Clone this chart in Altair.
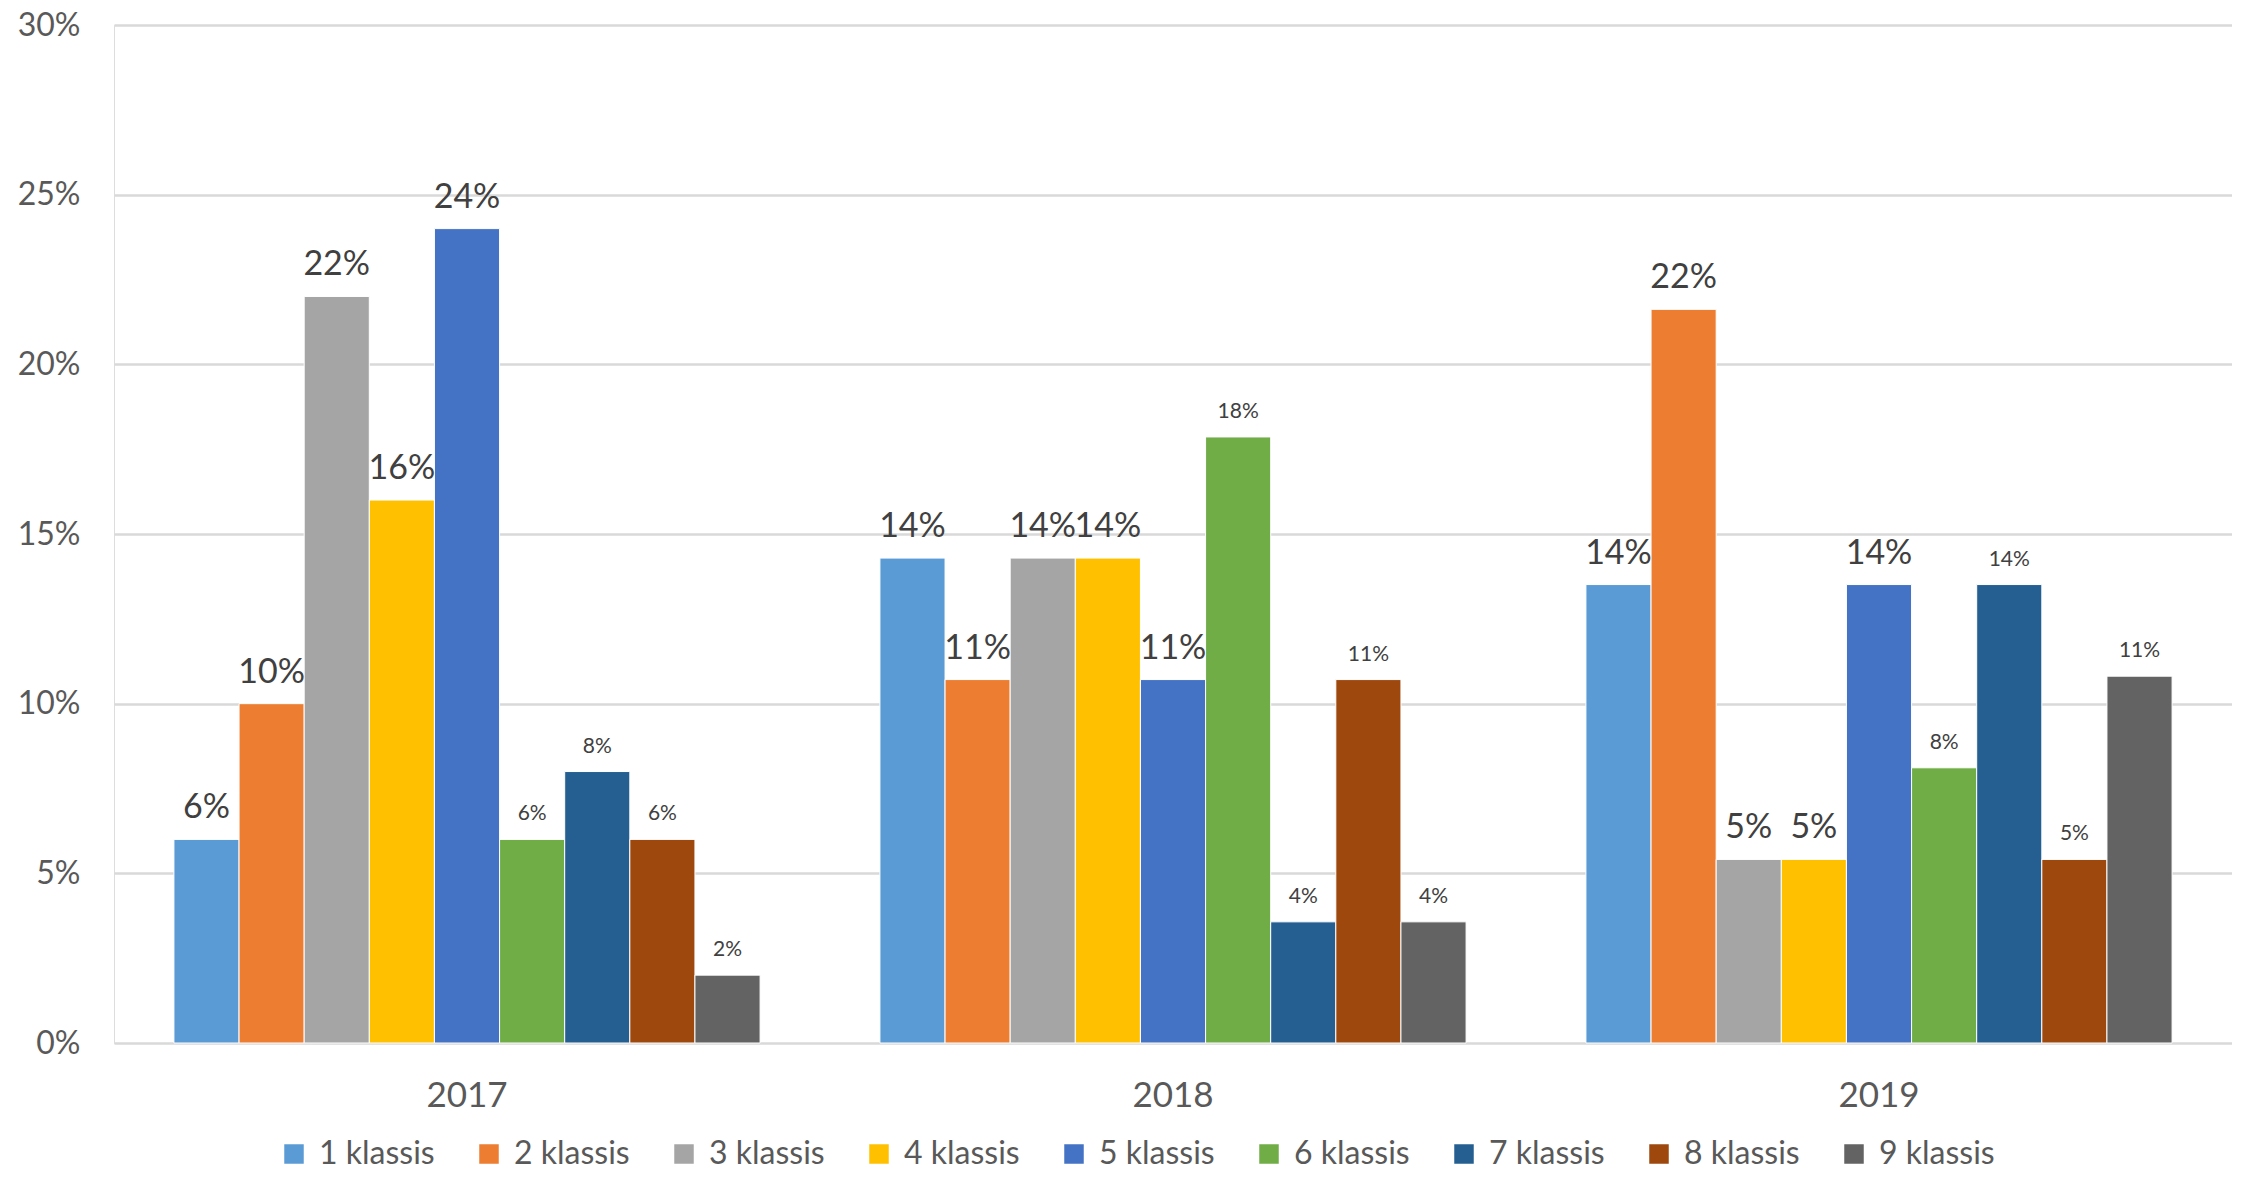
import altair as alt
import pandas as pd

years = ["2017", "2018", "2019"]
classes = ["1 klassis", "2 klassis", "3 klassis", "4 klassis", "5 klassis",
           "6 klassis", "7 klassis", "8 klassis", "9 klassis"]
v2017 = [0.06, 0.10, 0.22, 0.16, 0.24, 0.06, 0.08, 0.06, 0.02]
v2018 = [0.1429, 0.1071, 0.1429, 0.1429, 0.1071, 0.1786, 0.0357, 0.1071, 0.0357]
v2019 = [0.1351, 0.2162, 0.0541, 0.0541, 0.1351, 0.0811, 0.1351, 0.0541, 0.1081]
colors = ["#5B9BD5", "#ED7D31", "#A5A5A5", "#FFC000", "#4472C4",
          "#70AD47", "#255E91", "#9E480E", "#636363"]

rows = []
for y, vals in zip(years, [v2017, v2018, v2019]):
    for i, (c, v) in enumerate(zip(classes, vals)):
        rows.append({"year": y, "klass": c, "grade": i + 1, "value": v})
df = pd.DataFrame(rows)

FONT = "Lato"

x = alt.X("year:N", sort=years, title=None,
          scale=alt.Scale(paddingInner=0, paddingOuter=0),
          axis=alt.Axis(labelAngle=0, labelFontSize=35, labelColor="#595959",
                        labelFont=FONT, ticks=False, domain=False, labelPadding=35))
xo = alt.XOffset("klass:N", sort=classes,
                 scale=alt.Scale(paddingInner=0, paddingOuter=0.92))

base = alt.Chart(df)

bars = base.mark_bar(stroke="white", strokeWidth=1).encode(
    x=x, xOffset=xo,
    y=alt.Y("value:Q", title=None,
            scale=alt.Scale(domain=[0, 0.30], nice=False),
            axis=alt.Axis(format=".0%", values=[0, 0.05, 0.10, 0.15, 0.20, 0.25, 0.30],
                          labelFontSize=32, labelColor="#595959", labelFont=FONT,
                          ticks=False, domain=False, labelPadding=34,
                          gridColor="#D9D9D9", gridWidth=2.5)),
    color=alt.Color("klass:N", sort=classes,
                    scale=alt.Scale(domain=classes, range=colors),
                    legend=alt.Legend(title=None, orient="none", direction="horizontal",
                                      columns=9, legendX=164, legendY=1113,
                                      symbolType="square", symbolSize=380,
                                      symbolStrokeWidth=0, labelFontSize=32,
                                      labelFont=FONT, labelColor="#595959",
                                      labelOffset=9, columnPadding=38,
                                      labelLimit=300)),
)

big = base.transform_filter("datum.grade <= 5").mark_text(
    baseline="bottom", dy=-14, fontSize=34, font=FONT, color="#404040"
).encode(x=x, xOffset=xo, y="value:Q", text=alt.Text("value:Q", format=".0%"))

small = base.transform_filter("datum.grade > 5").mark_text(
    baseline="bottom", dy=-15, fontSize=21, font=FONT, color="#404040"
).encode(x=x, xOffset=xo, y="value:Q", text=alt.Text("value:Q", format=".0%"))

chart = alt.layer(bars, big, small).properties(
    width=2118, height=1018,
    autosize=alt.AutoSizeParams(type="none"),
    padding={"left": 106, "top": 17, "right": 0, "bottom": 129},
).configure_view(stroke=None).configure(background="white")

chart.save("out.html", embed_options={"renderer": "svg", "actions": False})
